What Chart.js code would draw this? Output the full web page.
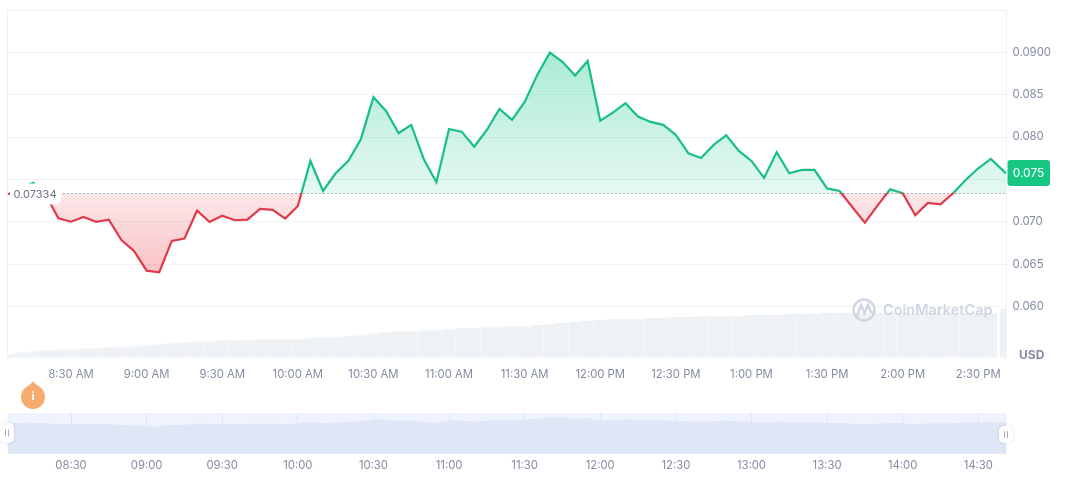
<!DOCTYPE html>
<html>
<head>
<meta charset="utf-8">
<title>Price chart</title>
<script src="https://cdn.jsdelivr.net/npm/chart.js@4"></script>
<style>
  html, body { margin: 0; padding: 0; background: #fff; }
  #wrap { position: relative; width: 1072px; height: 477px; overflow: hidden; }
  #main { position: absolute; left: 0; top: 0; }
  #nav { position: absolute; left: 0; top: 410px; }
</style>
</head>
<body>
<div id="wrap">
  <canvas id="main" width="1072" height="477"></canvas>
  <canvas id="nav" width="1072" height="67"></canvas>
</div>
<script>
// minutes since midnight, 8:05 AM to 2:41 PM
var times = [485, 490, 495, 500, 505, 510, 515, 520, 525, 530, 535, 540, 545, 550, 555, 560,
  565, 570, 575, 580, 585, 590, 595, 600, 605, 610, 615, 620, 625, 630, 635, 640,
  645, 650, 655, 660, 665, 670, 675, 680, 685, 690, 695, 700, 705, 710, 715, 720,
  725, 730, 735, 740, 745, 750, 755, 760, 765, 770, 775, 780, 785, 790, 795, 800,
  805, 810, 815, 820, 825, 830, 835, 840, 845, 850, 855, 860, 865, 870, 875, 881];

var prices = [0.07325, 0.0740, 0.07459, 0.07317, 0.07042, 0.07001, 0.07057, 0.06998,
  0.07025, 0.06785, 0.06655, 0.06423, 0.06404, 0.06774, 0.06801, 0.07131,
  0.06998, 0.07072, 0.07018, 0.07025, 0.07151, 0.0714, 0.07037, 0.07187,
  0.07718, 0.07364, 0.07573, 0.07718, 0.07975, 0.08471, 0.08309, 0.08045,
  0.08144, 0.07738, 0.07467, 0.08096, 0.08064, 0.07887, 0.08084, 0.08332,
  0.08203, 0.08415, 0.08734, 0.08997, 0.08888, 0.08726, 0.08899, 0.08194,
  0.08288, 0.0840, 0.08242, 0.08179, 0.08144, 0.08025, 0.07809, 0.07754,
  0.07907, 0.08022, 0.07836, 0.07718, 0.07518, 0.07821, 0.07573, 0.07612,
  0.07612, 0.07394, 0.07364, 0.07175, 0.0699, 0.0719, 0.07384, 0.07337,
  0.07077, 0.07222, 0.07207, 0.07337, 0.07494, 0.07632, 0.07742, 0.07571];

var volumes = [3, 5, 6, 7, 8, 8, 9, 9, 10, 11, 11, 12, 13, 14, 15, 16,
  16, 17, 17, 17, 18, 18, 18, 18, 19, 20, 20, 21, 22, 24, 25, 26,
  26, 27, 27, 28, 29, 29, 30, 30, 31, 31, 32, 33, 34, 35, 36, 37,
  38, 38, 38, 39, 39, 40, 40, 41, 41, 41, 41, 42, 42, 42, 43, 43,
  43, 44, 44, 44, 44, 44, 44, 44, 44, 44, 44, 44, 44, 44, 44, 48];

var basePrice = 0.07334;
var lastPriceLabel = '0.075';
var basePriceLabel = '0.07334';

var xTickValues = [510, 540, 570, 600, 630, 660, 690, 720, 750, 780, 810, 840, 870];
var xTickLabels = ['8:30 AM', '9:00 AM', '9:30 AM', '10:00 AM', '10:30 AM', '11:00 AM', '11:30 AM',
  '12:00 PM', '12:30 PM', '1:00 PM', '1:30 PM', '2:00 PM', '2:30 PM'];
var navTickLabels = ['08:30', '09:00', '09:30', '10:00', '10:30', '11:00', '11:30',
  '12:00', '12:30', '13:00', '13:30', '14:00', '14:30'];
var yTickValues = [0.060, 0.065, 0.070, 0.075, 0.080, 0.085, 0.090, 0.095];
var yTickLabels = ['0.060', '0.065', '0.070', '0.075', '0.080', '0.085', '0.0900', ''];

var GREEN = '#16c784', LINE_GREEN = '#18bf83', RED = '#e0394a', GRID = '#eff2f5', TEXT = '#858ca2';
var FONT = 'Inter, "Noto Sans", sans-serif';

function pairs(ys) {
  return times.map(function (t, i) { return { x: t, y: ys[i] }; });
}

function roundBox(ctx, x, y, w, h, r, fill) {
  ctx.beginPath();
  ctx.roundRect(x, y, w, h, r);
  ctx.fillStyle = fill;
  ctx.fill();
}

// labels and marks that sit on top of the plot
var overlay = {
  id: 'overlay',
  afterDraw: function (chart) {
    var ctx = chart.ctx;
    var yScale = chart.scales.y;
    var baseY = yScale.getPixelForValue(basePrice);
    var lastY = yScale.getPixelForValue(prices[prices.length - 1]);
    ctx.save();

    roundBox(ctx, 10, baseY - 10, 51, 21, 6, '#fff');
    ctx.fillStyle = '#6b7287';
    ctx.font = '11px ' + FONT;
    ctx.textAlign = 'left';
    ctx.textBaseline = 'middle';
    ctx.fillText(basePriceLabel, 13.5, baseY + 1.5);

    roundBox(ctx, 1007.5, lastY - 13.5, 42.5, 26, 3, GREEN);
    ctx.fillStyle = '#fff';
    ctx.font = '12px ' + FONT;
    ctx.textAlign = 'center';
    ctx.fillText(lastPriceLabel, 1028.5, lastY);

    ctx.fillStyle = TEXT;
    ctx.font = 'bold 12px ' + FONT;
    ctx.textAlign = 'left';
    ctx.fillText('USD', 1019, 355);

    // watermark
    ctx.strokeStyle = '#cfd6e3';
    ctx.fillStyle = '#cfd6e3';
    ctx.lineWidth = 2.4;
    ctx.beginPath();
    ctx.arc(864, 310, 10.5, 0, Math.PI * 2);
    ctx.stroke();
    ctx.beginPath();
    ctx.moveTo(857, 316);
    ctx.lineTo(861, 305);
    ctx.lineTo(864.5, 313);
    ctx.lineTo(868, 305);
    ctx.quadraticCurveTo(870, 313, 874, 313);
    ctx.stroke();
    ctx.font = '600 14.5px ' + FONT;
    ctx.fillText('CoinMarketCap', 883, 311);

    // orange info drop
    ctx.fillStyle = '#f5ac6d';
    ctx.beginPath();
    ctx.moveTo(33, 381.5);
    ctx.quadraticCurveTo(36, 385, 41, 387.5);
    ctx.arc(33, 397, 12, -0.9, Math.PI + 0.9);
    ctx.quadraticCurveTo(30, 385, 33, 381.5);
    ctx.fill();
    ctx.fillStyle = '#fff';
    ctx.font = 'bold 11px ' + FONT;
    ctx.textAlign = 'center';
    ctx.fillText('i', 33, 397);
    ctx.restore();
  }
};

var mainChart = new Chart(document.getElementById('main'), {
  data: {
    datasets: [{
      type: 'line',
      data: pairs(prices),
      order: 0,
      borderColor: LINE_GREEN,
      borderWidth: 2.2,
      pointRadius: 0,
      tension: 0,
      yAxisID: 'y'
    }, {
      type: 'line',
      data: [{ x: 484.8, y: basePrice }, { x: 881.2, y: basePrice }],
      order: 1,
      borderColor: '#5f6677',
      borderWidth: 1,
      borderDash: [1, 3],
      pointRadius: 0,
      yAxisID: 'y'
    }, {
      type: 'bar',
      data: pairs(volumes),
      order: 2,
      backgroundColor: '#eff2f5',
      barThickness: 11.8,
      yAxisID: 'vol'
    }]
  },
  options: {
    responsive: false,
    animation: false,
    layout: { padding: { left: 7.5, top: 10, right: 0, bottom: 0 } },
    plugins: { legend: { display: false }, tooltip: { enabled: false } },
    scales: {
      x: {
        type: 'linear',
        offset: false,
        min: 484.8,
        max: 881.2,
        grid: { display: false, offset: false },
        border: { display: false },
        afterBuildTicks: function (s) {
          s.ticks = xTickValues.map(function (v) { return { value: v }; });
        },
        afterFit: function (s) {
          s.height = 119;
          s.paddingLeft = 0;
          s.paddingRight = 0;
        },
        ticks: {
          autoSkip: false,
          maxRotation: 0,
          padding: 2,
          color: TEXT,
          font: { family: FONT, size: 11.3 },
          callback: function (v, i) { return xTickLabels[i]; }
        }
      },
      y: {
        position: 'right',
        min: 0.05392,
        max: 0.095,
        grid: { color: GRID, drawTicks: false },
        border: { color: GRID },
        afterBuildTicks: function (s) {
          s.ticks = yTickValues.map(function (v) { return { value: v }; });
        },
        afterFit: function (s) {
          s.width = 65.5;
          s.paddingTop = 0;
          s.paddingBottom = 0;
        },
        ticks: {
          padding: 6,
          color: TEXT,
          font: { family: FONT, size: 11.4 },
          callback: function (v, i) { return yTickLabels[i]; }
        }
      },
      vol: {
        position: 'left',
        min: 0,
        max: 342,
        grid: { drawOnChartArea: false, drawTicks: false },
        border: { color: GRID },
        ticks: { display: false },
        afterFit: function (s) {
          s.width = 0;
          s.paddingTop = 0;
          s.paddingBottom = 0;
        }
      }
    }
  },
  plugins: [overlay]
});

// colours depend on where the base price falls, so set them once the scales exist
(function () {
  var ctx = mainChart.ctx;
  var y = mainChart.scales.y;
  var baseY = y.getPixelForValue(basePrice);
  var h = mainChart.height;
  var stop = baseY / h;

  var line = ctx.createLinearGradient(0, 0, 0, h);
  line.addColorStop(0, LINE_GREEN);
  line.addColorStop(stop, LINE_GREEN);
  line.addColorStop(stop, RED);
  line.addColorStop(1, RED);

  var above = ctx.createLinearGradient(0, y.getPixelForValue(0.09), 0, baseY);
  above.addColorStop(0, 'rgba(22,199,132,0.36)');
  above.addColorStop(1, 'rgba(22,199,132,0.11)');

  var below = ctx.createLinearGradient(0, baseY, 0, y.getPixelForValue(0.064));
  below.addColorStop(0, 'rgba(234,57,67,0.12)');
  below.addColorStop(1, 'rgba(234,57,67,0.30)');

  var ds = mainChart.data.datasets[0];
  ds.borderColor = line;
  ds.fill = { target: { value: basePrice }, above: above, below: below };
  mainChart.update('none');
})();

var navBand = {
  id: 'navBand',
  beforeDraw: function (chart) {
    var a = chart.chartArea;
    chart.ctx.fillStyle = '#eef3fe';
    chart.ctx.fillRect(a.left, a.top, a.right - a.left, a.bottom - a.top);
  },
  afterDraw: function (chart) {
    var ctx = chart.ctx;
    [[0, 13, 20], [999, 16, 17]].forEach(function (hnd) {
      ctx.save();
      ctx.shadowColor = 'rgba(88,102,126,0.25)';
      ctx.shadowBlur = 3;
      roundBox(ctx, hnd[0], hnd[1], 14, hnd[2], 5, '#fff');
      ctx.restore();
      var cx = hnd[0] + 7, cy = hnd[1] + hnd[2] / 2;
      ctx.fillStyle = '#a6b0c3';
      ctx.fillRect(cx - 2, cy - 3.5, 1, 7);
      ctx.fillRect(cx + 1, cy - 3.5, 1, 7);
    });
  }
};

new Chart(document.getElementById('nav'), {
  type: 'line',
  data: {
    datasets: [{
      data: pairs(prices),
      fill: 'start',
      backgroundColor: '#dfe6f6',
      borderWidth: 0,
      pointRadius: 0,
      tension: 0.3
    }]
  },
  options: {
    responsive: false,
    animation: false,
    layout: { padding: { left: 7.5, top: 3, right: 65.5, bottom: 0 } },
    plugins: { legend: { display: false }, tooltip: { enabled: false } },
    scales: {
      x: {
        type: 'linear',
        min: 484.8,
        max: 881.2,
        grid: { color: '#dfe5f5', drawTicks: false },
        border: { display: false },
        afterBuildTicks: function (s) {
          s.ticks = xTickValues.map(function (v) { return { value: v }; });
        },
        afterFit: function (s) { s.height = 23; },
        ticks: {
          autoSkip: false,
          maxRotation: 0,
          padding: 5,
          color: TEXT,
          font: { family: FONT, size: 11.3 },
          callback: function (v, i) { return navTickLabels[i]; }
        }
      },
      y: { display: false, min: -0.02, max: 0.104 }
    }
  },
  plugins: [navBand]
});
</script>
</body>
</html>
